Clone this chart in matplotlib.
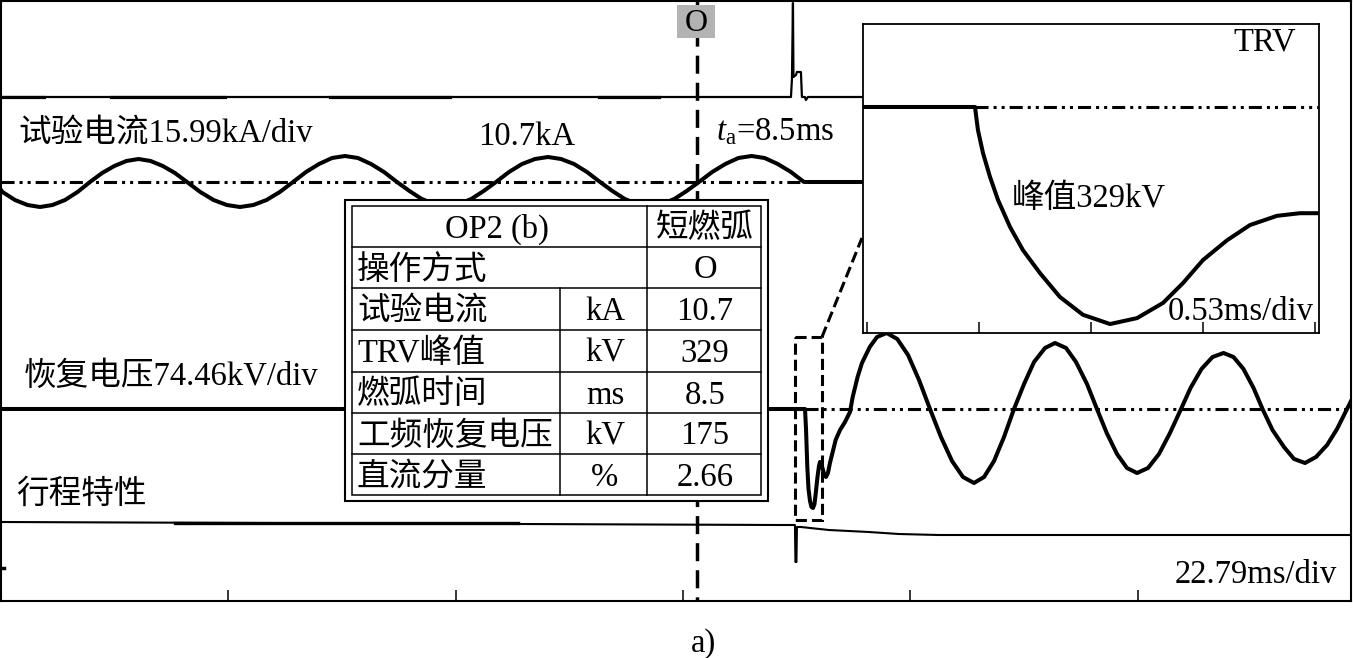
import matplotlib
matplotlib.use('Agg')
import matplotlib.pyplot as plt
from matplotlib.patches import Rectangle

plt.rcParams['font.family'] = ['Liberation Serif', 'Noto Sans CJK SC']
plt.rcParams['mathtext.fontset'] = 'custom'
plt.rcParams['mathtext.rm'] = 'Liberation Serif'
plt.rcParams['mathtext.it'] = 'Liberation Serif:italic'
plt.rcParams['lines.scale_dashes'] = False

# ---------------- data (time in ms, traces as screen deviation, up = +) ----------------
TIME_DIV = 22.79          # ms/div main record
TRV_DIV = 0.53            # ms/div inset
t_open = 69.8             # contact separation marker "O"

cur_t = [0.0, 0.15, 1.40, 2.66, 3.91, 5.16, 6.42, 7.67, 8.92,
         10.14, 11.36, 12.57, 13.79, 15.00, 16.22, 17.44, 18.65,
         19.98, 21.31, 22.64, 23.96, 25.30, 26.62, 27.95, 29.28,
         30.58, 31.88, 33.19, 34.49, 35.79, 37.10, 38.40, 39.70,
         40.95, 42.19, 43.42, 44.67, 45.91, 47.15, 48.39, 49.63,
         50.93, 52.24, 53.54, 54.84, 56.15, 57.45, 58.75, 60.06,
         61.30, 62.54, 63.78, 65.02, 66.26, 67.51, 68.74, 69.98,
         71.30, 72.62, 73.93, 75.25, 76.56, 77.88, 79.20, 80.51, 86.32]
cur_v = [-8, -10, -18, -23, -25, -23, -18, -10, 0,
         9, 16, 21, 23, 21, 16, 9, 0,
         -10, -18, -23, -25, -23, -18, -10, 0,
         10, 18, 24, 26, 24, 18, 10, 0,
         -9, -17, -22, -24, -22, -17, -9, 0,
         10, 18, 23, 25, 23, 18, 10, 0,
         -9, -17, -22, -24, -22, -17, -9, 0,
         10, 18, 24, 26, 24, 18, 10, 0, 0]

volt_t = [0.0, 79.61, 80.61, 80.71, 80.84, 80.96, 81.11, 81.26, 81.41, 81.56,
          81.71, 81.86, 82.01, 82.11, 82.26, 82.41, 82.56, 82.71, 82.91, 83.11,
          83.41, 83.68, 84.12, 84.62, 85.12, 85.39, 85.88, 86.32, 87.10, 87.83,
          88.80, 89.86, 90.94, 92.04, 93.14, 94.24, 95.35, 96.45, 97.55, 98.56,
          99.56, 100.56, 101.56, 102.57, 103.57, 104.67, 105.67, 106.78, 107.78, 108.88,
          109.88, 110.86, 111.89, 112.89, 113.90, 115.00, 116.10, 117.20, 118.31, 119.26,
          120.36, 121.47, 122.57, 123.57, 124.57, 125.58, 126.48, 127.48, 128.63, 129.64,
          130.74, 131.84, 132.95, 133.95, 134.95, 135.35]
volt_v = [0, 0, 0, -20, -58, -80, -92, -98, -99, -95,
          -82, -68, -57, -53, -55, -61, -66, -68, -64, -54,
          -42, -31, -21, -13, -3, 12, 32, 46, 62, 72,
          76, 70, 54, 29, 0, -28, -52, -68, -74, -68,
          -52, -28, 0, 25, 47, 61, 66, 61, 47, 25,
          0, -24, -45, -59, -64, -59, -45, -24, 0, 21,
          40, 52, 56, 52, 40, 21, 0, -21, -38, -50,
          -54, -48, -36, -20, 0, 8]

top_t = [0.0, 79.2, 79.3, 79.4, 79.45, 79.7, 79.8, 80.2, 80.3, 80.6, 80.7, 80.9, 86.4]
top_v = [0, 0, 18, 94, 20, 22, 25, 25, 0, 0, -3, 0, 0]

trav_t = [0.0, 78.0, 79.6, 79.65, 79.75, 79.8, 80.2, 83.0, 87.0, 90.0, 94.0, 135.35]
trav_v = [0, -3, -3, -40, -40, -5, -5, -8, -10, -12, -13, -13]

trv_t = [-0.02, 0.511, 0.525, 0.549, 0.582, 0.620, 0.677, 0.738, 0.819, 0.913, 1.022,
         1.150, 1.278, 1.401, 1.495, 1.590, 1.704, 1.812, 1.940, 2.049, 2.139]
trv_kv = [0, 0, -35, -70, -106, -141, -182, -217, -252, -288, -315,
          -329, -320, -297, -267, -232, -202, -179, -165, -161, -161]

table_col1 = ["OP2 (b)", "操作方式", "试验电流", "TRV峰值", "燃弧时间", "工频恢复电压", "直流分量"]
table_col2 = ["", "", "kA", "kV", "ms", "kV", "%"]
table_col3 = ["短燃弧", "O", "10.7", "329", "8.5", "175", "2.66"]

# ---------------- layout ----------------
W, H = 1353, 658
BASE_TOP, BASE_CUR, BASE_VOLT, BASE_TRAV = 97, 182, 409, 522
FS = 23.5
DDOT = (0, (9.4, 3.6, 2.2, 3.6, 2.2, 3.6))

fig = plt.figure(figsize=(W / 100, H / 100), dpi=100, facecolor='white')

ax = fig.add_axes([1 / W, 1 - 601 / H, 1350 / W, 600 / H])
ax.set_xlim(0, 135.35)
ax.set_ylim(601, 1)
ax.set_xticks([TIME_DIV * k for k in range(1, 6)])
ax.set_yticks([])
ax.tick_params(axis='x', direction='in', length=8, width=1.1, labelbottom=False)
for s in ax.spines.values():
    s.set_linewidth(1.5)

# top channel
ax.plot(top_t, [BASE_TOP - v for v in top_v], color='black', lw=1.6)
for a, b in [(0.2, 4.3), (11.0, 22.5), (33.0, 45.0), (60.0, 66.0)]:
    ax.plot([a, b], [BASE_TOP, BASE_TOP], color='black', lw=2.3)

# current channel
ax.plot([0, 80.5], [BASE_CUR, BASE_CUR], color='black', lw=2.2, ls=DDOT, dash_capstyle='butt')
ax.plot(cur_t, [BASE_CUR - v for v in cur_v], color='black', lw=2.9, solid_joinstyle='round')

# voltage channel
ax.plot([80.6, 135.35], [BASE_VOLT, BASE_VOLT], color='black', lw=2.2, ls=DDOT, dash_capstyle='butt')
ax.plot(volt_t, [BASE_VOLT - v for v in volt_v], color='black', lw=2.9, solid_joinstyle='round')

# travel channel
ax.plot(trav_t, [BASE_TRAV - v for v in trav_v], color='black', lw=1.5)
ax.plot([17.4, 51.8], [BASE_TRAV + 1.2, BASE_TRAV + 1.2], color='black', lw=2.4)
ax.plot([0.1, 0.3], [568, 568], color='black', lw=2.5)

# opening instant marker
ax.plot([t_open, t_open], [1, 601], color='black', lw=2.5, ls=(0, (13, 6.5)), dash_capstyle='butt')

# zoom window and connector
ax.add_patch(Rectangle((79.61, 337), 82.31 - 79.61, 520 - 337, fill=False, ec='black',
                       lw=2.2, ls=(0, (8, 3.6))))
ax.plot([82.31, 86.32], [337, 238], color='black', lw=2.2, ls=(0, (8, 3.6)))

# ---------------- overlay (pixel coords) ----------------
ov = fig.add_axes([0, 0, 1, 1], zorder=5)
ov.set_xlim(0, W)
ov.set_ylim(H, 0)
ov.axis('off')

ov.add_patch(Rectangle((677, 5), 38, 33, fc='#b3b3b3', ec='none'))
ov.text(696, 31, "O", fontsize=23, ha='center', va='baseline')

ov.text(18, 142, "试验电流15.99kA/div", fontsize=FS, va='baseline')
ov.text(478, 145, "10.7kA", fontsize=FS, va='baseline')
ov.text(716, 140, r"$t_{\mathrm{a}}$=8.5ms", fontsize=FS, va='baseline')
ov.text(24, 385, "恢复电压74.46kV/div", fontsize=FS, va='baseline')
ov.text(16, 503, "行程特性", fontsize=FS, va='baseline')
ov.text(1337, 583, "22.79ms/div", fontsize=FS, va='baseline', ha='right')
ov.text(704, 652, "a)", fontsize=FS, va='baseline', ha='center')

# table
ov.add_patch(Rectangle((345, 200), 423, 301, fc='white', ec='black', lw=1.5))
ov.add_patch(Rectangle((352, 206), 409, 289, fc='none', ec='black', lw=1.1))
row_edges = [206, 247, 288, 330, 372, 413, 454, 495]
for y in row_edges[1:-1]:
    ov.plot([352, 761], [y, y], color='black', lw=1.1)
ov.plot([647, 647], [206, 495], color='black', lw=1.1)
ov.plot([560, 560], [288, 495], color='black', lw=1.1)
for i in range(len(table_col1)):
    yb = (row_edges[i] + row_edges[i + 1]) / 2 + 11
    if i == 0:
        ov.text(497, yb, table_col1[i], fontsize=FS, ha='center', va='baseline')
    else:
        ov.text(357, yb, table_col1[i], fontsize=FS, ha='left', va='baseline')
    if table_col2[i]:
        ov.text(605, yb, table_col2[i], fontsize=FS, ha='center', va='baseline')
    ov.text(705, yb, table_col3[i], fontsize=FS, ha='center', va='baseline')

# ---------------- TRV inset ----------------
ins = fig.add_axes([863 / W, 1 - 333 / H, 456 / W, 309 / H], zorder=10)
ins.set_facecolor('white')
ins.set_xlim(-0.019, 2.139)
ins.set_ylim(-342.6, 125.8)
ins.set_xticks([TRV_DIV * k for k in range(5)])
ins.set_yticks([])
ins.tick_params(axis='x', direction='in', length=8, width=1.1, labelbottom=False)
for s in ins.spines.values():
    s.set_linewidth(1.3)
ins.plot([0.511, 2.139], [0, 0], color='black', lw=2.2, ls=DDOT, dash_capstyle='butt')
ins.plot(trv_t, trv_kv, color='black', lw=2.9, solid_joinstyle='round')
ins.text(0.95, 0.915, "TRV", transform=ins.transAxes, fontsize=FS, ha='right', va='baseline')
ins.text(1.05, -151, "峰值329kV", fontsize=FS, ha='center', va='baseline')
ins.text(2.115, -323, "0.53ms/div", fontsize=FS, ha='right', va='baseline')

fig.savefig('out.png', dpi=100, facecolor='white')
